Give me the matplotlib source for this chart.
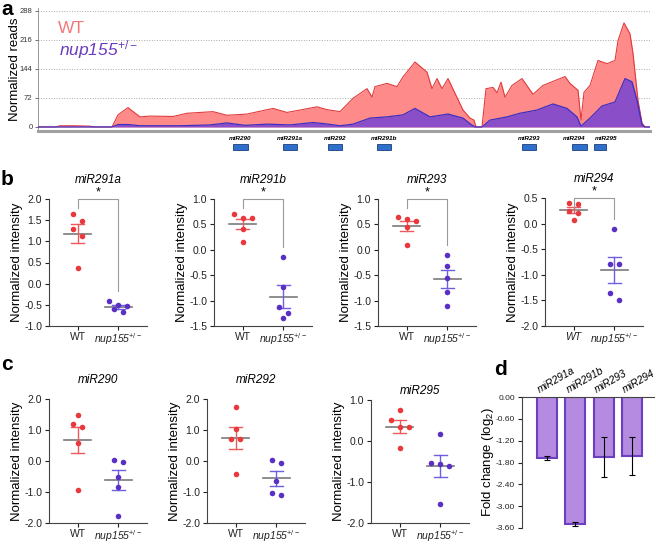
import numpy as np
import matplotlib
matplotlib.use("Agg")
import matplotlib.pyplot as plt
import matplotlib.transforms as mtransforms
from matplotlib.patches import Rectangle

plt.rcParams['font.family'] = ['Liberation Sans', 'DejaVu Sans']
plt.rcParams['mathtext.fontset'] = 'custom'
plt.rcParams['mathtext.rm'] = 'Liberation Sans'
plt.rcParams['mathtext.it'] = 'Liberation Sans:italic'
plt.rcParams['mathtext.bf'] = 'Liberation Sans:bold'
plt.rcParams['axes.unicode_minus'] = False

# ---------------- data ----------------
# panel a: read coverage across the cluster (position in a.u.)
wt_pos = [38, 56, 60, 75, 90, 94, 112, 118, 128, 140, 150, 173, 187, 213, 227, 247, 273, 287,
          300, 317, 327, 340, 353, 367, 372, 375, 387, 397, 403, 415, 427, 432, 437, 442, 448,
          463, 470, 474, 476, 482, 486, 493, 497, 501, 505, 512, 522, 533, 543, 553, 565, 570,
          578, 581, 584, 590, 598, 607, 615, 618, 624, 630, 633, 638, 642, 645, 650]
wt_reads = [0, 0, 3, 3, 2, 0, 0, 30, 48, 25, 27, 26, 34, 38, 29, 32, 46, 36,
            42, 50, 43, 38, 71, 95, 74, 100, 108, 100, 124, 161, 136, 95, 120, 95, 120,
            42, 22, 17, 0, 0, 95, 98, 85, 111, 74, 103, 120, 81, 103, 113, 125, 108,
            91, 17, 86, 103, 165, 157, 165, 214, 258, 231, 182, 66, 10, 0, 0]
ko_pos = [38, 112, 118, 128, 140, 180, 210, 227, 245, 267, 290, 313, 325, 340, 353, 370, 387,
          403, 415, 430, 448, 463, 470, 475, 482, 490, 507, 520, 537, 553, 567, 577, 581, 590,
          602, 615, 625, 632, 637, 642, 645, 650]
ko_reads = [0, 0, 6, 6, 3, 3, 5, 10, 4, 7, 5, 11, 8, 3, 7, 22, 25,
            30, 46, 25, 32, 22, 8, 0, 0, 17, 25, 34, 42, 57, 46, 25, 2, 22,
            52, 62, 120, 112, 66, 5, 0, 0]
mir_names = ['miR290', 'miR291a', 'miR292', 'miR291b', 'miR293', 'miR294', 'miR295']
mir_start = [233, 283, 328, 377, 522, 572, 594]
mir_end = [248, 297, 342, 391, 536, 587, 606]
reads_ticks = [0, 72, 144, 216, 288]

# panels b, c: normalized intensity, WT vs nup155+/-
mir291a_wt = [1.64, 1.48, 1.29, 1.13, 0.38]
mir291a_ko = [-0.41, -0.51, -0.53, -0.59, -0.68]
mir291b_wt = [0.71, 0.62, 0.62, 0.41, 0.15]
mir291b_ko = [-0.15, -0.74, -1.12, -1.25, -1.34]
mir293_wt = [0.65, 0.60, 0.56, 0.44, 0.10]
mir293_ko = [-0.10, -0.31, -0.56, -0.84, -1.10]
mir294_wt = [0.40, 0.38, 0.24, 0.20, 0.08]
mir294_ko = [-0.10, -0.78, -0.78, -1.36, -1.50]
mir290_wt = [1.47, 1.20, 1.10, 0.58, -0.94]
mir290_ko = [0.02, -0.03, -0.50, -0.84, -1.76]
mir292_wt = [1.73, 1.02, 0.71, 0.71, -0.42]
mir292_ko = [0.03, -0.07, -0.65, -1.02, -1.10]
mir295_wt = [0.75, 0.51, 0.33, 0.33, -0.16]
mir295_ko = [0.16, -0.53, -0.55, -0.61, -1.53]
groups = ['WT', r'nup155$^{\mathit{+/-}}$']

# panel d: fold change (log2)
fc_names = ['miR291a', 'miR291b', 'miR293', 'miR294']
fc_mean = [-1.68, -3.49, -1.66, -1.62]
fc_err = [0.045, 0.06, 0.55, 0.52]
fc_ticks = [0.0, -0.6, -1.2, -1.8, -2.4, -3.0, -3.6]

RED = '#e8393c'
RED_LT = '#ec5a5c'
PUR = '#5a30c4'
PUR_LT = '#6f5fe0'

W, H = 656, 545
fig = plt.figure(figsize=(W / 100, H / 100), dpi=100)


def box(l, t, r, b):
    return [l / W, 1 - b / H, (r - l) / W, (b - t) / H]


# ---------------- panel a ----------------
ax = fig.add_axes(box(38, 8, 650, 131))
ax.set_xlim(38, 650)
ax.set_ylim(-10, 295)
ax.fill_between(wt_pos, wt_reads, color='#ff8a8a', lw=0, zorder=2)
ax.plot(wt_pos, wt_reads, color='#e23a3a', lw=0.8, zorder=3)
ax.fill_between(ko_pos, ko_reads, color='#8a4fc8', lw=0, zorder=4)
ax.plot(ko_pos, ko_reads, color='#3c2fc4', lw=0.9, zorder=5)
for t in reads_ticks[1:]:
    ax.axhline(t, color='#a8a8a8', lw=0.7, ls=':', zorder=1)
ax.set_yticks(reads_ticks)
ax.set_xticks([])
ax.tick_params(axis='y', labelsize=5.5, length=2, width=0.5, pad=2, colors='#333333')
for s in ['top', 'right']:
    ax.spines[s].set_visible(False)
ax.spines['left'].set_color('#888888')
ax.spines['left'].set_linewidth(0.6)
ax.spines['bottom'].set_color('#a0a0a0')
ax.spines['bottom'].set_linewidth(2.2)
ax.set_ylabel('Normalized reads', fontsize=9.5)
ax.yaxis.set_label_coords(-17 / 612, 0.5)
ax.text(20 / 612, 98 / 123, 'WT', color='#f07878', fontsize=12.5, transform=ax.transAxes)
ax.text(21 / 612, 76 / 123, groups[1], color='#6a3bc0', fontsize=12.5, fontstyle='italic',
        transform=ax.transAxes)

# gene boxes with labels pushed apart where they would collide
trans = mtransforms.blended_transform_factory(ax.transData, ax.transAxes)
label_x = [(s0 + s1) / 2 for s0, s1 in zip(mir_start, mir_end)]
min_gap = 32
for _ in range(20):
    for i in range(len(label_x) - 1):
        gap = label_x[i + 1] - label_x[i]
        if gap < min_gap:
            shift = (min_gap - gap) / 2
            label_x[i] -= shift
            label_x[i + 1] += shift
for name, s0, s1, lx in zip(mir_names, mir_start, mir_end, label_x):
    ax.add_patch(Rectangle((s0, -0.155), s1 - s0, 0.05, transform=trans, clip_on=False,
                           facecolor='#2f6fcc', edgecolor='#1b3f7c', lw=0.6))
    ax.text(lx, -0.075, name, transform=trans, ha='center', va='baseline',
            fontsize=4.6, fontstyle='italic', fontweight='bold')


# ---------------- panels b, c ----------------
def swarm(vals, px_per_unit, thresh=7.5, step=9.0):
    order = sorted(range(len(vals)), key=lambda i: -vals[i])
    rows = []
    for i in order:
        if rows and (vals[rows[-1][0]] - vals[i]) * px_per_unit < thresh:
            rows[-1].append(i)
        else:
            rows.append([i])
    offs = [0.0] * len(vals)
    for r in rows:
        for k, i in enumerate(r):
            offs[i] = (k - (len(r) - 1) / 2) * step
    return offs


def dot_panel(left, top, bottom, wt, ko, title, ylim, yticks, title_gap=19,
              star=False, wt_italic=False):
    width = 98
    ax = fig.add_axes(box(left, top, left + width, bottom))
    xlim = (-0.7, 1.7)
    ax.set_xlim(*xlim)
    ax.set_ylim(*ylim)
    ppx = width / (xlim[1] - xlim[0])
    ppy = (bottom - top) / (ylim[1] - ylim[0])
    for c, vals, col, col_lt in [(0, wt, RED, RED_LT), (1, ko, PUR, PUR_LT)]:
        vals = np.array(vals)
        m = vals.mean()
        se = vals.std(ddof=1) / np.sqrt(len(vals))
        ax.plot([c - 0.33, c + 0.33], [m, m], color='#7a7a7a', lw=1.2, zorder=2)
        ax.plot([c, c], [m - se, m + se], color=col_lt, lw=1.0, zorder=2)
        for yy in (m - se, m + se):
            ax.plot([c - 0.16, c + 0.16], [yy, yy], color=col_lt, lw=1.0, zorder=2)
        offs = swarm(list(vals), ppy)
        ax.scatter(c + np.array(offs) / ppx, vals, s=16, color=col, lw=0, zorder=3,
                   clip_on=False)
    if star:
        ytop = ylim[1]
        ax.plot([0, 0, 1, 1], [ytop - 9 / ppy, ytop, ytop, max(ko) + 10 / ppy],
                color='#9a9a9a', lw=0.8, clip_on=False)
        ax.text(0.5, ytop + 1 / ppy, '*', ha='center', va='bottom', fontsize=9)
    ax.text(0.5, 1 + title_gap / (bottom - top), title, transform=ax.transAxes,
            ha='center', va='center', fontsize=8.5, fontstyle='italic')
    ax.set_yticks(yticks)
    ax.set_yticklabels(['%.1f' % v for v in yticks])
    ax.set_xticks([0, 1])
    ax.set_xticklabels(groups)
    lbls = ax.get_xticklabels()
    lbls[1].set_fontstyle('italic')
    if wt_italic:
        lbls[0].set_fontstyle('italic')
    ax.tick_params(labelsize=7.5, length=3, width=0.8, colors='#222222')
    ax.tick_params(axis='x', pad=1)
    ax.tick_params(axis='y', pad=2)
    for s in ['top', 'right']:
        ax.spines[s].set_visible(False)
    for s in ['left', 'bottom']:
        ax.spines[s].set_linewidth(0.8)
        ax.spines[s].set_color('#444444')
    ax.set_ylabel('Normalized intensity', fontsize=9.5)
    ax.yaxis.set_label_coords(-26 / width, 0.5)
    return ax


dot_panel(49, 199, 326, mir291a_wt, mir291a_ko, 'miR291a', (-1.0, 2.0),
          [-1.0, -0.5, 0.0, 0.5, 1.0, 1.5, 2.0], star=True)
dot_panel(214, 199, 326, mir291b_wt, mir291b_ko, 'miR291b', (-1.5, 1.0),
          [-1.5, -1.0, -0.5, 0.0, 0.5, 1.0], star=True)
dot_panel(378, 199, 326, mir293_wt, mir293_ko, 'miR293', (-1.5, 1.0),
          [-1.5, -1.0, -0.5, 0.0, 0.5, 1.0], star=True)
dot_panel(545, 198, 326, mir294_wt, mir294_ko, 'miR294', (-2.0, 0.5),
          [-2.0, -1.5, -1.0, -0.5, 0.0, 0.5], star=True, wt_italic=True)

dot_panel(49, 399, 523, mir290_wt, mir290_ko, 'miR290', (-2.0, 2.0),
          [-2.0, -1.0, 0.0, 1.0, 2.0])
dot_panel(207, 399, 523, mir292_wt, mir292_ko, 'miR292', (-2.0, 2.0),
          [-2.0, -1.0, 0.0, 1.0, 2.0])
dot_panel(371, 400, 523, mir295_wt, mir295_ko, 'miR295', (-2.0, 1.0),
          [-2.0, -1.0, 0.0, 1.0], title_gap=9)

# ---------------- panel d ----------------
axd = fig.add_axes(box(522, 397, 654, 528))
xs = np.arange(len(fc_names))
axd.set_xlim(-0.88, 3.77)
axd.set_ylim(-3.6, 0)
axd.bar(xs, fc_mean, width=0.7, color='#b48be0', edgecolor='#6b3fc0', lw=1.5, zorder=2)
axd.errorbar(xs, fc_mean, yerr=fc_err, fmt='none', ecolor='black', elinewidth=0.8,
             capsize=2.5, capthick=0.8, zorder=3)
axd.set_yticks(fc_ticks)
axd.set_yticklabels(['%.2f' % v for v in fc_ticks])
axd.set_xticks([])
axd.tick_params(labelsize=6, length=3, width=0.8, pad=2, colors='#222222')
for s in ['bottom', 'right']:
    axd.spines[s].set_visible(False)
for s in ['left', 'top']:
    axd.spines[s].set_linewidth(0.8)
    axd.spines[s].set_color('#444444')
axd.set_ylabel('Fold change (log$_2$)', fontsize=9.5)
axd.yaxis.set_label_coords(-26 / 132, 0.5)
tr = mtransforms.offset_copy(
    mtransforms.blended_transform_factory(axd.transData, axd.transAxes),
    fig=fig, x=-7, y=4, units='dots')
for x, name in zip(xs, fc_names):
    axd.text(x, 1, name, transform=tr, rotation=30, rotation_mode='anchor',
             ha='left', va='baseline', fontsize=7.5, fontstyle='italic')

# panel letters
for letter, px, py in [('a', 1, 15), ('b', 1, 185), ('c', 1, 370), ('d', 494, 375)]:
    fig.text(px / W, 1 - py / H, letter, fontsize=15, fontweight='bold', va='baseline')

fig.savefig('out.png', dpi=100)
